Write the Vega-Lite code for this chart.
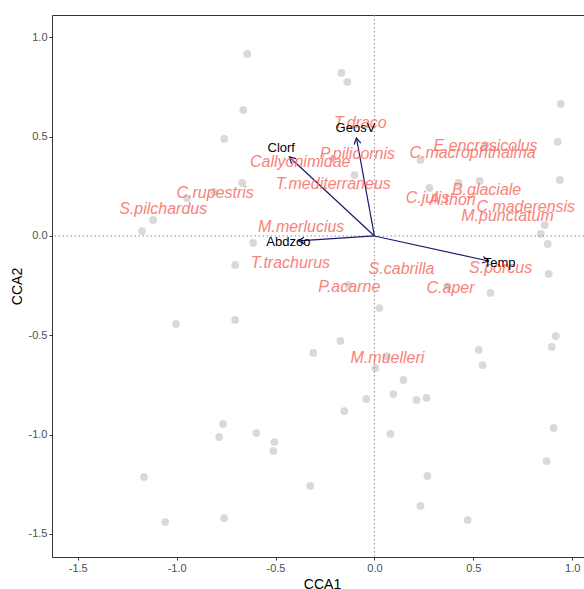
{
  "$schema": "https://vega.github.io/schema/vega-lite/v6.json",
  "width": 540,
  "height": 542,
  "autosize": {"type": "none"},
  "padding": {"left": 52, "top": 15, "right": 0, "bottom": 32},
  "background": "white",
  "config": {
    "view": {"stroke": "#333333", "strokeWidth": 1},
    "font": "Liberation Sans",
    "axis": {
      "domain": false, "grid": false, "ticks": true, "tickSize": 3, "tickColor": "#333333",
      "labelColor": "#4d4d4d", "labelFontSize": 11, "labelPadding": 2,
      "titleColor": "#000000", "titleFontSize": 14, "titleFontWeight": "normal"
    }
  },
  "datasets": {
    "sites": [
      {"x": -0.643, "y": 0.917}, {"x": -0.663, "y": 0.635}, {"x": -0.759, "y": 0.489}, {"x": -0.668, "y": 0.267},
      {"x": -0.947, "y": 0.191}, {"x": -0.810, "y": 0.222}, {"x": -1.119, "y": 0.081}, {"x": -1.175, "y": 0.025},
      {"x": -0.613, "y": -0.035}, {"x": -0.704, "y": -0.146}, {"x": -1.003, "y": -0.443}, {"x": -0.704, "y": -0.423},
      {"x": -0.765, "y": -0.947}, {"x": -0.785, "y": -1.013}, {"x": -0.597, "y": -0.993}, {"x": -0.506, "y": -1.038},
      {"x": -0.511, "y": -1.083}, {"x": -1.165, "y": -1.214}, {"x": -1.058, "y": -1.441}, {"x": -0.760, "y": -1.421},
      {"x": 0.587, "y": -0.287}, {"x": 0.025, "y": -0.363}, {"x": -0.172, "y": -0.529}, {"x": -0.309, "y": -0.589},
      {"x": 0.005, "y": -0.665}, {"x": 0.061, "y": -0.605}, {"x": 0.527, "y": -0.574}, {"x": 0.547, "y": -0.650},
      {"x": 0.917, "y": -0.504}, {"x": 0.896, "y": -0.559}, {"x": 0.147, "y": -0.725}, {"x": 0.096, "y": -0.796},
      {"x": -0.041, "y": -0.821}, {"x": 0.213, "y": -0.826}, {"x": 0.263, "y": -0.816}, {"x": -0.152, "y": -0.882},
      {"x": 0.081, "y": -0.997}, {"x": 0.906, "y": -0.967}, {"x": 0.871, "y": -1.134}, {"x": 0.268, "y": -1.209},
      {"x": -0.324, "y": -1.259}, {"x": 0.233, "y": -1.360}, {"x": 0.471, "y": -1.431}, {"x": -0.167, "y": 0.821},
      {"x": -0.137, "y": 0.776}, {"x": 0.942, "y": 0.665}, {"x": 0.927, "y": 0.474}, {"x": 0.937, "y": 0.282},
      {"x": 0.233, "y": 0.383}, {"x": -0.101, "y": 0.307}, {"x": 0.278, "y": 0.242}, {"x": 0.425, "y": 0.267},
      {"x": 0.532, "y": 0.277}, {"x": 0.861, "y": 0.055}, {"x": 0.841, "y": 0.010}, {"x": 0.876, "y": -0.040},
      {"x": 0.881, "y": -0.191}, {"x": -0.132, "y": -0.247}, {"x": 0.370, "y": -0.252}, {"x": 0.562, "y": 0.458}
    ],
    "env": [
      {"name": "Clorf", "x": -0.430, "y": 0.398, "lx": -0.471, "ly": 0.443},
      {"name": "GeosV", "x": -0.091, "y": 0.494, "lx": -0.096, "ly": 0.544},
      {"name": "Abdzoo", "x": -0.385, "y": -0.025, "lx": -0.435, "ly": -0.030},
      {"name": "Temp", "x": 0.577, "y": -0.126, "lx": 0.633, "ly": -0.136}
    ],
    "species": [
      {"name": "T.draco", "x": -0.071, "y": 0.569},
      {"name": "P.pilicornis", "x": -0.086, "y": 0.413},
      {"name": "Callyonimidae", "x": -0.375, "y": 0.373},
      {"name": "T.mediterraneus", "x": -0.208, "y": 0.262},
      {"name": "C.macrophthalma", "x": 0.496, "y": 0.418},
      {"name": "E.encrasicolus", "x": 0.562, "y": 0.453},
      {"name": "B.glaciale", "x": 0.567, "y": 0.232},
      {"name": "C.julis", "x": 0.268, "y": 0.191},
      {"name": "A.thori", "x": 0.395, "y": 0.181},
      {"name": "C.maderensis", "x": 0.765, "y": 0.146},
      {"name": "M.punctatum", "x": 0.673, "y": 0.101},
      {"name": "S.pilchardus", "x": -1.068, "y": 0.136},
      {"name": "C.rupestris", "x": -0.805, "y": 0.217},
      {"name": "M.merlucius", "x": -0.370, "y": 0.045},
      {"name": "T.trachurus", "x": -0.425, "y": -0.136},
      {"name": "P.acarne", "x": -0.127, "y": -0.257},
      {"name": "S.cabrilla", "x": 0.137, "y": -0.166},
      {"name": "S.porcus", "x": 0.638, "y": -0.161},
      {"name": "C.aper", "x": 0.385, "y": -0.262},
      {"name": "M.muelleri", "x": 0.066, "y": -0.615}
    ]
  },
  "layer": [
    {
      "data": {"name": "sites"},
      "mark": {"type": "circle", "size": 60, "color": "#d9d9d9", "opacity": 1},
      "encoding": {
        "x": {"field": "x", "type": "quantitative", "title": "CCA1",
              "scale": {"domain": [-1.63, 1.10], "nice": false, "zero": false},
              "axis": {"values": [-1.5, -1, -0.5, 0, 0.5, 1], "labelExpr": "(datum.value < 0 ? '-' : '') + format(abs(datum.value), '.1f')", "titlePadding": 4}},
        "y": {"field": "y", "type": "quantitative", "title": "CCA2",
              "scale": {"domain": [-1.617, 1.113], "nice": false, "zero": false},
              "axis": {"values": [-1.5, -1, -0.5, 0, 0.5, 1], "labelExpr": "(datum.value < 0 ? '-' : '') + format(abs(datum.value), '.1f')", "titlePadding": 4}}
      }
    },
    {
      "data": {"values": [{"v": 0}]},
      "mark": {"type": "rule", "color": "#8c8c8c", "strokeWidth": 1, "strokeDash": [1.5, 2.5]},
      "encoding": {"x": {"field": "v", "type": "quantitative"}}
    },
    {
      "data": {"values": [{"v": 0}]},
      "mark": {"type": "rule", "color": "#8c8c8c", "strokeWidth": 1, "strokeDash": [1.5, 2.5]},
      "encoding": {"y": {"field": "v", "type": "quantitative"}}
    },
    {
      "data": {"name": "env"},
      "transform": [{"calculate": "0", "as": "o"}],
      "mark": {"type": "rule", "color": "#191970", "strokeWidth": 1.2},
      "encoding": {
        "x": {"field": "o", "type": "quantitative"},
        "y": {"field": "o", "type": "quantitative"},
        "x2": {"field": "x"},
        "y2": {"field": "y"}
      }
    },
    {
      "data": {"name": "env"},
      "transform": [{"calculate": "atan2(datum.x * 197.8, datum.y * 198.5) * 180 / PI", "as": "ang"}],
      "mark": {"type": "point", "shape": "M-0.5,0.9L0,0L0.5,0.9", "filled": false, "size": 180, "color": "#191970", "strokeWidth": 1.2, "opacity": 1},
      "encoding": {
        "x": {"field": "x", "type": "quantitative"},
        "y": {"field": "y", "type": "quantitative"},
        "angle": {"field": "ang", "type": "quantitative", "scale": null}
      }
    },
    {
      "data": {"name": "species"},
      "mark": {"type": "text", "fontSize": 16, "fontStyle": "italic", "color": "#F8766D", "opacity": 0.9, "align": "center", "baseline": "middle"},
      "encoding": {
        "x": {"field": "x", "type": "quantitative"},
        "y": {"field": "y", "type": "quantitative"},
        "text": {"field": "name"}
      }
    },
    {
      "data": {"name": "env"},
      "mark": {"type": "text", "fontSize": 13, "color": "#000000", "align": "center", "baseline": "middle"},
      "encoding": {
        "x": {"field": "lx", "type": "quantitative"},
        "y": {"field": "ly", "type": "quantitative"},
        "text": {"field": "name"}
      }
    }
  ]
}
